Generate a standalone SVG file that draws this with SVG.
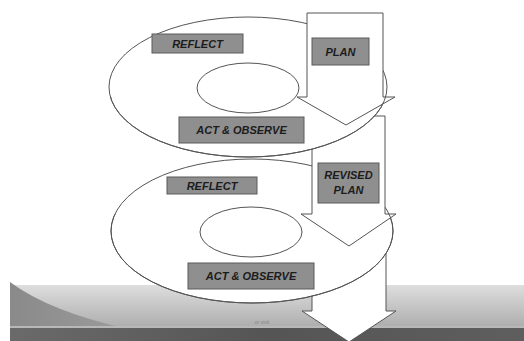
<svg xmlns="http://www.w3.org/2000/svg" width="524" height="341" viewBox="0 0 524 341">
<defs>
<style>
.ring{fill:#fff;stroke:#555;stroke-width:1}
.line{fill:none;stroke:#555;stroke-width:1}
.arr{fill:#fff;stroke:#555;stroke-width:1;stroke-linejoin:miter}
.box{fill:#8f8f8f;stroke:#5a5a5a;stroke-width:1}
.lbl{font-family:"Liberation Sans",Arial,sans-serif;font-size:11px;font-weight:bold;font-style:italic;fill:#1c1c1c;text-anchor:middle}
</style>
<linearGradient id="band" x1="0" y1="0" x2="0" y2="1">
<stop offset="0" stop-color="#dedede"/>
<stop offset="0.5" stop-color="#c4c4c4"/>
<stop offset="1" stop-color="#aaaaaa"/>
</linearGradient>
<linearGradient id="wedge" x1="0" y1="0" x2="1" y2="0">
<stop offset="0" stop-color="#8a8a8a"/>
<stop offset="1" stop-color="#9c9c9c"/>
</linearGradient>
<linearGradient id="dark" x1="0" y1="0" x2="1" y2="0">
<stop offset="0" stop-color="#6a6a6a"/>
<stop offset="0.5" stop-color="#555"/>
<stop offset="1" stop-color="#5e5e5e"/>
</linearGradient>
<clipPath id="below1"><rect x="0" y="97" width="524" height="100"/></clipPath>
<clipPath id="below2"><rect x="0" y="214" width="524" height="127"/></clipPath>
</defs>
<rect width="524" height="341" fill="#fff"/>
<g id="background">
<rect x="10" y="285" width="514" height="45" fill="url(#band)"/>
<path d="M10,282 Q50,312 132,330 L10,330 Z" fill="url(#wedge)"/>
<rect x="10" y="326" width="514" height="2" fill="#b8b8b8"/>
<rect x="10" y="328" width="514" height="13" fill="url(#dark)"/>
<text x="262" y="324" font-family="Liberation Sans,Arial,sans-serif" font-size="5" fill="#888" text-anchor="middle">or visit</text>
</g>
<g id="connectors">
<path id="arrow3" class="arr" d="M312,225 H386 V311 H396 L349,342 L302,311 H312 Z"/>
</g>
<g id="cycle2">
<ellipse class="ring" cx="252" cy="231" rx="141" ry="72"/>
</g>
<g id="arrow2-group">
<path id="arrow2" class="arr" d="M312,116 H385 V214 H396 L349,246 L301,214 H312 Z"/>
<ellipse class="line" cx="252" cy="231" rx="141" ry="72" clip-path="url(#below2)"/>
<ellipse class="ring" cx="251" cy="232" rx="51" ry="25"/>
</g>
<g id="reflect2">
<rect class="box" x="167" y="177" width="90" height="17"/>
<text class="lbl" x="212" y="189.5">REFLECT</text>
</g>
<g id="revised-plan">
<rect class="box" x="318" y="163" width="61" height="40"/>
<text class="lbl" x="348.5" y="179">REVISED</text>
<text class="lbl" x="348.5" y="194">PLAN</text>
</g>
<g id="act2">
<rect class="box" x="188" y="263" width="126" height="26"/>
<text class="lbl" x="251" y="280">ACT &amp; OBSERVE</text>
</g>
<g id="cycle1">
<ellipse class="ring" cx="248" cy="87" rx="139" ry="70"/>
</g>
<g id="arrow1-group">
<path id="arrow1" class="arr" d="M307,13 H383 V97 H395 L346,125 L297,97 H307 Z"/>
<ellipse class="line" cx="248" cy="87" rx="139" ry="70" clip-path="url(#below1)"/>
<ellipse class="ring" cx="248" cy="88" rx="51" ry="25"/>
</g>
<g id="reflect1">
<rect class="box" x="152" y="34" width="91" height="19"/>
<text class="lbl" x="197.5" y="47.5">REFLECT</text>
</g>
<g id="plan">
<rect class="box" x="312" y="38" width="57" height="27"/>
<text class="lbl" x="340.5" y="55.5">PLAN</text>
</g>
<g id="act1">
<rect class="box" x="179" y="117" width="125" height="26"/>
<text class="lbl" x="241.5" y="134">ACT &amp; OBSERVE</text>
</g>
</svg>
